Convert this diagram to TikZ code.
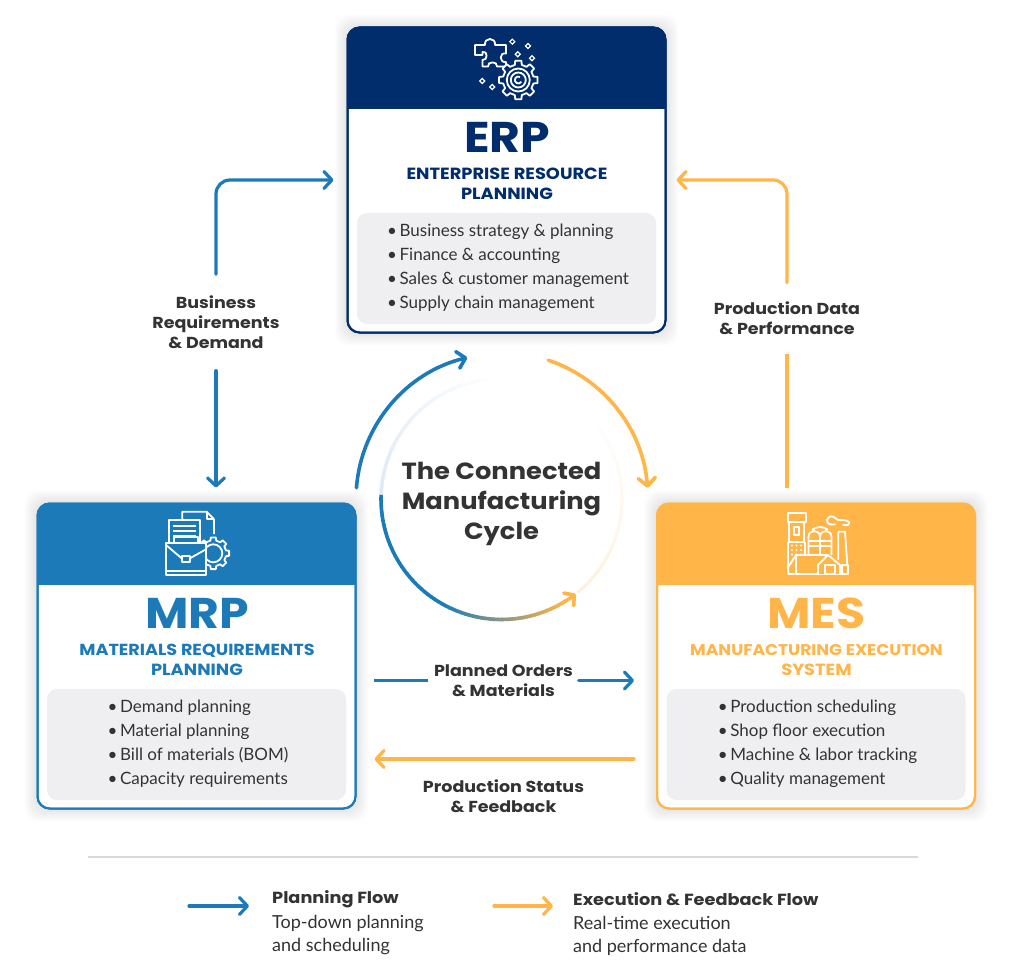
\documentclass[tikz,border=0pt]{standalone}
\usepackage{fontspec}
\setmainfont{Lato}
\newfontfamily\headfont{Poppins}[FakeStretch=1.1]
\usetikzlibrary{arrows.meta}
\definecolor{erpnavy}{HTML}{012D6C}
\definecolor{mrpblue}{HTML}{1C7AB9}
\definecolor{mesyellow}{HTML}{FFB547}
\definecolor{listgray}{HTML}{EFEFF1}
\definecolor{textdark}{HTML}{333333}
\definecolor{ringpale}{HTML}{DCE9F4}
\definecolor{ringcream}{HTML}{FDF1DC}
\newcommand{\itemdot}{\makebox[12.5pt][l]{\textbullet}}
\newcommand{\gearshape}[5]{%
	\begin{scope}[shift={(#1,#2)}]
		\draw[iconline,fill=#5] (-13:#4) \foreach \t in {0,45,...,315}
			{ -- (\t-13:#4) -- (\t-9:#3) -- (\t+9:#3) -- (\t+13:#4) -- (\t+32:#4) } -- cycle;
	\end{scope}}
\tikzset{
	card/.style={draw=#1,line width=2pt,fill=white,rounded corners=12pt,minimum width=318pt,minimum height=305pt,inner sep=0pt,outer sep=0pt},
	listbox/.style={fill=listgray,rounded corners=10pt,minimum width=299pt,minimum height=111pt,inner sep=0pt},
	listtext/.style={align=left,text=textdark,inner sep=0pt,font=\fontsize{17}{24}\selectfont},
	shorttitle/.style={font=\headfont\bfseries\fontsize{43}{46}\selectfont,inner sep=0pt},
	longtitle/.style={font=\headfont\bfseries\fontsize{16.2}{20}\selectfont,align=center,inner sep=0pt},
	flowlabel/.style={font=\headfont\bfseries\fontsize{15.9}{20}\selectfont,align=center,text=textdark,inner sep=0pt},
	legendhead/.style={font=\headfont\bfseries\fontsize{16.1}{20}\selectfont,text=textdark,inner sep=0pt,anchor=west},
	legendtext/.style={font=\fontsize{18}{23}\selectfont,align=left,text=textdark,inner sep=0pt,anchor=west},
	planflow/.style={line width=3.2pt,color=mrpblue,line cap=round,-{Straight Barb[length=8pt,width=17pt,round]}},
	execflow/.style={line width=3.2pt,color=mesyellow,line cap=round,-{Straight Barb[length=8pt,width=17pt,round]}},
	plainplan/.style={line width=3.2pt,color=mrpblue},
	plainexec/.style={line width=3.2pt,color=mesyellow},
	iconline/.style={draw=white,line width=1.8pt,line join=round},
}
\begin{document}
\begin{tikzpicture}[x=1pt,y=1pt,yscale=-1]
\useasboundingbox (0,0) rectangle (1011,976);
\fill[white] (0,0) rectangle (1011,976);

\foreach \name/\cx/\cy/\col/\short/\full/\items in {
	erp/506.5/180/erpnavy/ERP/{ENTERPRISE RESOURCE\\PLANNING}/{\itemdot Business strategy \& planning\\\itemdot Finance \& accounting\\\itemdot Sales \& customer management\\\itemdot Supply chain management},
	mrp/196.5/656/mrpblue/MRP/{\fontsize{16}{20}\selectfont MATERIALS REQUIREMENTS\\PLANNING}/{\itemdot Demand planning\\\itemdot Material planning\\\itemdot Bill of materials (BOM)\\\itemdot Capacity requirements},
	mes/816/656/mesyellow/MES/{\fontsize{15.5}{20}\selectfont MANUFACTURING EXECUTION\\SYSTEM}/{\itemdot Production scheduling\\\itemdot Shop floor execution\\\itemdot Machine \& labor tracking\\\itemdot Quality management}}
	{
	\foreach \g in {1,...,13}
		{
		\fill[black,opacity=0.007,rounded corners=14pt] (\cx-159-\g,\cy-152.5-\g) rectangle (\cx+159+\g,\cy+152.5+\g);
		}
	\node[card=\col] (\name) at (\cx,\cy) {};
	\begin{scope}
		\clip[rounded corners=12pt] (\name.north west) rectangle (\name.south east);
		\fill[\col] (\cx-160,\cy-153) rectangle (\cx+160,\cy-71);
	\end{scope}
	\draw[\col,line width=2pt,rounded corners=12pt] (\name.north west) rectangle (\name.south east);
	\node[shorttitle,text=\col] (\name title) at (\cx+0.5,\cy-43) {\short};
	\node[longtitle,text=\col] (\name full) at (\cx+0.5,\cy+4) {\full};
	\node[listbox] (\name list) at (\cx,\cy+88.5) {};
	\node[listtext] (\name items) at (\cx+1.5,\cy+87.5) {\items};
	}

\node[flowlabel,minimum height=96pt] (bizreq) at (216,322.5) {Business\\Requirements\\\& Demand};
\node[flowlabel,minimum height=71pt] (proddata) at (787,318.5) {Production Data\\\& Performance};
\node[flowlabel,minimum width=150pt] (planorders) at (503.5,680.5) {Planned Orders\\\& Materials};
\node[flowlabel] (prodstatus) at (503.5,796) {Production Status\\\& Feedback};
\coordinate (feedback) at (504,759);

\draw[planflow,rounded corners=14pt,shorten >=14pt] (bizreq.north) |- (erp.west);
\draw[planflow,shorten >=16pt] (bizreq.south) -- (bizreq.south |- mrp.north);
\draw[execflow,rounded corners=14pt,shorten >=11pt] (proddata.north) |- (erp.east);
\draw[plainexec,shorten >=16pt] (proddata.south) -- (proddata.south |- mes.north);
\draw[plainplan,shorten >=18pt] (planorders.west) -- (planorders.west -| mrp.east);
\draw[planflow,shorten >=23pt] (planorders.east) -- (planorders.east -| mes.west);
\draw[execflow,shorten <=23pt,shorten >=19pt] (feedback -| mes.west) -- (feedback -| mrp.east);

\coordinate (hub) at (501.5,499);
\node[font=\headfont\bfseries\fontsize{23.4}{30}\selectfont,align=center,text=textdark,inner sep=0pt] (cycle) at (501.5,504) {The Connected\\Manufacturing\\Cycle};
\draw[planflow,line width=3.6pt] (hub) ++(-175.6:145.5) arc[start angle=-175.6,delta angle=72,radius=145.5];
\draw[execflow,line width=3.6pt] (hub) ++(-71.4:146.5) arc[start angle=-71.4,delta angle=67,radius=146.5];
\foreach \a in {90,92,...,178}
	{
	\pgfmathsetmacro\mixval{(\a-90)/88*100}
	\draw[line width=3.4pt,color=ringpale!\mixval!white] (hub) ++(-\a:120.5) arc[start angle=-\a,delta angle=-2.5,radius=120.5];
	}
\foreach \a in {309,311,...,403}
	{
	\pgfmathsetmacro\mixval{(\a-309)/96*100}
	\draw[line width=2.8pt,color=white!\mixval!ringcream] (hub) ++(-\a:120.5) arc[start angle=-\a,delta angle=-2.5,radius=120.5];
	}
\foreach \a in {178,180,...,300}
	{
	\pgfmathsetmacro\mixval{min(100,max(0,(300-\a)/60*100))}
	\draw[line width=3.6pt,color=mrpblue!\mixval!mesyellow] (hub) ++(-\a:120.5) arc[start angle=-\a,delta angle=-2.5,radius=120.5];
	}
\draw[line width=3.6pt,color=mesyellow,-{Straight Barb[length=7pt,width=16pt,round]}] (hub) ++(-301:120.5) arc[start angle=-301,delta angle=-7,radius=120.5];

\draw[iconline] (475,45) -- (485,45) .. controls (484,37) and (496,37) .. (495,45) -- (506,45) -- (506,53.5) .. controls (499,52) and (499,63) .. (506,62) -- (506,66.5) -- (497,66.5) .. controls (498,61) and (487,61) .. (488,66.5) -- (482.5,66.5) -- (482.5,60) .. controls (488,61) and (488,50) .. (482.5,52) -- (482.5,55) -- (475,55) -- cycle;
\gearshape{518.3}{80}{19.5}{15.5}{erpnavy}
\draw[iconline] (518.3,80) circle (11.5);
\draw[iconline] (518.3,80) circle (7.5);
\draw[iconline] (518.3,80) ++(30:3.5) arc[start angle=30,delta angle=270,radius=3.5];
\foreach \sx/\sy in {512.3/41.7,528/46,517.7/54.3,532/58.3,482.3/81,492.3/87}
	{
	\draw[draw=white,line width=1.2pt] (\sx-2.5,\sy) -- (\sx,\sy-2.5) -- (\sx+2.5,\sy) -- (\sx,\sy+2.5) -- cycle;
	}

\gearshape{213.3}{553.3}{16}{13}{mrpblue}
\draw[iconline] (213.3,553.3) circle (9);
\draw[iconline,fill=mrpblue] (182.3,520) -- (182.3,511.7) -- (206.7,511.7) -- (214,519.3) -- (214,534);
\draw[iconline] (206.7,511.7) -- (206.7,519.3) -- (214,519.3);
\draw[iconline,fill=mrpblue] (169,542) -- (169,520) -- (200,520) -- (200,542);
\foreach \ly in {526,531,536}
	{
	\draw[iconline] (173,\ly) -- (196,\ly);
	}
\draw[iconline,fill=mrpblue] (174,543) -- (174,537.3) -- (198.3,537.3) -- (198.3,543);
\draw[iconline,fill=mrpblue] (166,542.7) rectangle (206,575);
\draw[iconline] (166,545) -- (181.7,558.3);
\draw[iconline] (190,558.3) -- (206,549.3);
\draw[iconline] (181.7,556) rectangle (190,561.7);
\draw[iconline] (166,570.7) -- (206,570.7);

\draw[iconline] (787.7,513.3) rectangle (805.7,521.7);
\draw[iconline] (789,521.7) -- (789,541.7) -- (804.3,541.7) -- (804.3,521.7);
\draw[iconline] (794,526.7) rectangle (799.3,535);
\draw[iconline] (788.3,541.7) -- (788.3,574);
\draw[iconline] (805,541.7) -- (805,555);
\foreach \dx in {792,796.5,801}
	{
	\foreach \dy in {545.5,550,554.5}
		{
		\fill[white] (\dx,\dy) circle (1.1);
		}
	}
\foreach \sx in {808.5,820}
	{
	\draw[iconline] (\sx,555) -- (\sx,537) .. controls (\sx,529) and (\sx+11.5,529) .. (\sx+11.5,537) -- (\sx+11.5,555);
	\draw[iconline] (\sx,541) -- (\sx+11.5,541);
	\draw[iconline] (\sx,546) -- (\sx+11.5,546);
	}
\draw[iconline] (812,530) .. controls (816,526) and (824,526) .. (828,530);
\draw[iconline,fill=mesyellow] (788.3,574) -- (788.3,567) -- (796,555) -- (824,555) -- (828,555);
\draw[iconline] (788.3,574) -- (848.3,574);
\draw[iconline] (796,555) -- (796,574);
\draw[iconline,fill=mesyellow] (818,574) -- (818,565) -- (828,555) -- (840,565) -- (840,574);
\draw[iconline] (825,565) rectangle (835,574);
\draw[iconline] (838.3,560) -- (838.3,531.7) -- (845,531.7) -- (847.3,565);
\draw[iconline] (841.7,565) rectangle (848.3,574);
\draw[iconline,line cap=round] plot[smooth] coordinates {(835,524.5) (829,524) (827,520) (830,516.5) (834,517) (838,520) (844,520) (849,522) (848,525) (843,525)};

\draw[color=black!15,line width=2pt] (88,857) -- (918,857);
\node[legendhead] (planhead) at (272,899.5) {Planning Flow};
\node[legendtext] (plantext) at (272,935.5) {Top-down planning\\and scheduling};
\node[legendhead] (exechead) at (573,899.5) {Execution \& Feedback Flow};
\node[legendtext] (exectext) at (573,936) {Real-time execution\\and performance data};
\coordinate (planstart) at (189,906);
\coordinate (execstart) at (494,906);
\draw[planflow,shorten >=23pt] (planstart) -- (planstart -| planhead.west);
\draw[execflow,shorten >=20pt] (execstart) -- (execstart -| exechead.west);
\end{tikzpicture}
\end{document}
